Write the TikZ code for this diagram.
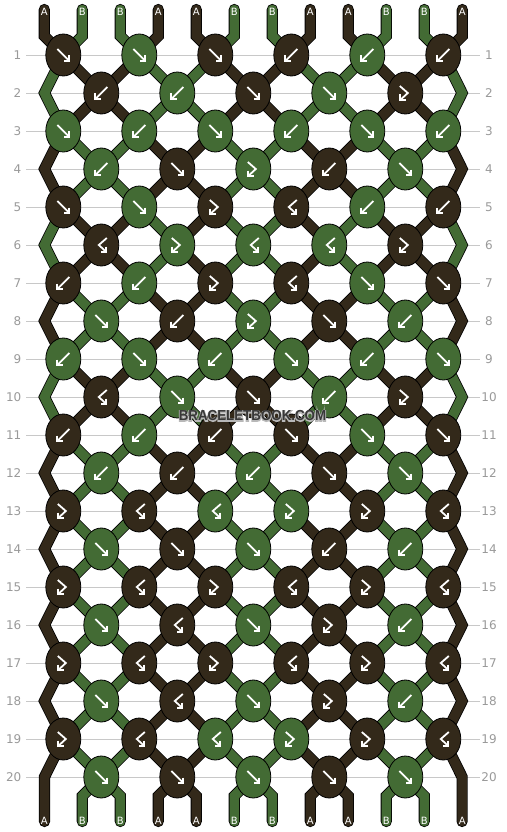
\documentclass[tikz,border=0pt]{standalone}
\usepackage{fontspec}
\setmainfont{DejaVu Sans}
\newfontfamily\markfont{Liberation Sans}
\usetikzlibrary{shapes.geometric,backgrounds}

\definecolor{dk}{HTML}{33291A}
\definecolor{gk}{HTML}{436B34}
\definecolor{rulegray}{HTML}{C8C8C8}
\definecolor{numgray}{HTML}{9A9A9A}
\definecolor{markgray}{HTML}{383838}

\tikzset{
  knot/.style={ellipse, draw=black, line width=0.8pt, minimum width=35pt, minimum height=42pt, inner sep=0pt},
  strand/.style={draw=black, line width=0.8pt, double=#1, double distance=9.6pt, line cap=round},
  arw/.style={draw=white, line width=1.8pt},
  gridline/.style={draw=rulegray, line width=0.9pt},
  rownum/.style={text=numgray, font=\fontsize{12}{12}\selectfont, inner sep=0pt},
  strlbl/.style={text=white, font=\fontsize{10}{10}\selectfont, inner sep=0pt},
  wmark/.style={text=markgray, font=\markfont\bfseries\fontsize{14.5}{14.5}\selectfont, inner sep=0pt},
}

% outlined text for the watermark: stroked copy under a plain copy
\newcommand\outlined[1]{\rlap{\special{pdf:code q 2 Tr 1.8 w 0.72 G}#1\special{pdf:code Q}}#1}

% knot symbols: forward, backward, forward-backward, backward-forward
\newcommand\knotfwd[1]{\begin{scope}[shift={(#1.center)}]
  \draw[arw] (-6,-6) -- (5,5);
  \draw[arw] (6,0.5) -- (6,6) -- (0.5,6);
\end{scope}}
\newcommand\knotbwd[1]{\begin{scope}[shift={(#1.center)}]
  \draw[arw] (6,-6) -- (-5,5);
  \draw[arw] (-6,0.5) -- (-6,6) -- (-0.5,6);
\end{scope}}
\newcommand\knotfb[1]{\begin{scope}[shift={(#1.center)}]
  \draw[arw] (-5.5,-7) -- (2.5,0) -- (-4.2,6.2);
  \draw[arw] (-5,1.5) -- (-5,7) -- (0.5,7);
\end{scope}}
\newcommand\knotbf[1]{\begin{scope}[shift={(#1.center)}]
  \draw[arw] (5.5,-7) -- (-2.5,0) -- (4.2,6.2);
  \draw[arw] (5,1.5) -- (5,7) -- (-0.5,7);
\end{scope}}

% string colours after each row
\def\patA{dk/A,gk/B,gk/B,dk/A,dk/A,gk/B,gk/B,dk/A,dk/A,gk/B,gk/B,dk/A}
\def\patB{gk/B,dk/A,dk/A,gk/B,gk/B,dk/A,dk/A,gk/B,gk/B,dk/A,dk/A,gk/B}
\def\patC{gk/B,dk/A,dk/A,gk/B,dk/A,gk/B,gk/B,dk/A,gk/B,dk/A,dk/A,gk/B}

\begin{document}
\begin{tikzpicture}[x=1pt,y=-1pt]
  \useasboundingbox (0,0) rectangle (506,832);

  % knots
  \foreach \r/\row in {
    1/{dk/fwd,gk/fwd,dk/fwd,dk/bwd,gk/bwd,dk/bwd},
    2/{dk/bwd,gk/bwd,dk/fwd,gk/fwd,dk/fb},
    3/{gk/fwd,gk/bwd,gk/fwd,gk/bwd,gk/fwd,gk/bwd},
    4/{gk/bwd,dk/fwd,gk/fb,dk/bwd,gk/fwd},
    5/{dk/fwd,gk/fwd,dk/fb,dk/bf,gk/bwd,dk/bwd},
    6/{dk/bf,gk/fb,gk/bf,gk/bf,dk/fb},
    7/{dk/bwd,gk/bwd,dk/fb,dk/bf,gk/fwd,dk/fwd},
    8/{gk/fwd,dk/bwd,gk/fb,dk/fwd,gk/bwd},
    9/{gk/bwd,gk/fwd,gk/bwd,gk/fwd,gk/bwd,gk/fwd},
    10/{dk/bf,gk/fwd,dk/fwd,gk/bwd,dk/fb},
    11/{dk/bwd,gk/bwd,dk/bwd,dk/fwd,gk/fwd,dk/fwd},
    12/{gk/bwd,dk/bwd,gk/bwd,dk/fwd,gk/fwd},
    13/{dk/fb,dk/bf,gk/bf,gk/fb,dk/fb,dk/bf},
    14/{gk/fwd,dk/fwd,gk/fwd,dk/bwd,gk/bwd},
    15/{dk/fb,dk/bf,dk/fb,dk/bf,dk/fb,dk/bf},
    16/{gk/fwd,dk/bf,gk/fwd,dk/fb,gk/bwd},
    17/{dk/fb,dk/bf,dk/fb,dk/bf,dk/fb,dk/bf},
    18/{gk/fwd,dk/bf,gk/fwd,dk/fb,gk/bwd},
    19/{dk/fb,dk/bf,gk/bf,gk/fb,dk/fb,dk/bf},
    20/{gk/fwd,dk/fwd,gk/fwd,dk/fwd,gk/fwd}} {
    \foreach \col/\typ [count=\kn] in \row {
      \pgfmathsetmacro\x{63.3+38*mod(\r+1,2)+76*(\kn-1)}
      \pgfmathsetmacro\y{55+38*(\r-1)}
      \node[knot, fill=\col] (k-\r-\kn) at (\x,\y) {};
      \csname knot\typ\endcsname{k-\r-\kn}
    }
  }

  % edge turning points and loose ends
  \foreach \r in {2,4,...,20} {
    \pgfmathsetmacro\y{55+38*(\r-1)}
    \coordinate (eL-\r) at (44.5,\y);
    \coordinate (eR-\r) at (462.1,\y);
  }
  \coordinate (k-21-1) at (44.5,821.5);
  \coordinate (k-21-6) at (462.1,821.5);

  % row numbers
  \foreach \r in {1,...,20} {
    \pgfmathsetmacro\y{55+38*(\r-1)}
    \node[rownum, anchor=east] (numl-\r) at (21.5,\y) {\r};
    \node[rownum] (numr-\r) at (489,\y) {\r};
  }

  \begin{pgfonlayer}{background}
    \fill[white] (0,0) rectangle (506,832);
    \foreach \r in {1,...,20} {
      \pgfmathsetmacro\y{55+38*(\r-1)}
      \draw[gridline] (26,\y) -- (480,\y);
    }

    % strings coming in at the top
    \foreach \col/\s [count=\p] in \patA {
      \pgfmathtruncatemacro\ka{(\p+1)/2}
      \pgfmathsetmacro\xs{63.3+76*(\ka-1)+(mod(\p,2)==1 ? -19 : 19)}
      \coordinate (top-\p) at (\xs,9.5);
      \draw[strand=\col] (top-\p) -- ++(0,26.5) -- (k-1-\ka.center);
    }

    % strings between the rows
    \foreach \r/\pat in {1/B,2/B,3/A,4/A,5/C,6/C,7/A,8/A,9/B,10/B,11/A,12/A,13/A,14/A,15/A,16/A,17/A,18/A,19/A} {
      \edef\cur{\csname pat\pat\endcsname}
      \foreach \col/\s [count=\p] in \cur {
        \pgfmathtruncatemacro\rn{\r+1}
        \pgfmathtruncatemacro\rnn{\r+2}
        \ifnum\p=1
          \ifodd\r \draw[strand=\col] (k-\r-1.center) -- (eL-\rn) -- (k-\rnn-1.center); \fi
        \else\ifnum\p=12
          \ifodd\r \draw[strand=\col] (k-\r-6.center) -- (eR-\rn) -- (k-\rnn-6.center); \fi
        \else
          \pgfmathtruncatemacro\ka{mod(\r,2)==1 ? (\p+1)/2 : \p/2}
          \pgfmathtruncatemacro\kb{mod(\r,2)==1 ? \p/2 : (\p+1)/2}
          \draw[strand=\col] (k-\r-\ka.center) -- (k-\rn-\kb.center);
        \fi\fi
      }
    }

    % strings going out at the bottom
    \foreach \col/\s [count=\p] in \patA {
      \ifnum\p>1 \ifnum\p<12
        \pgfmathtruncatemacro\kb{\p/2}
        \pgfmathsetmacro\dx{mod(\p,2)==0 ? -19 : 19}
        \pgfmathsetmacro\xs{101.3+76*(\kb-1)+\dx}
        \coordinate (bot-\p) at (\xs,821.5);
        \draw[strand=\col] (k-20-\kb.center) -- ++(\dx,19) -- (bot-\p);
      \fi\fi
    }
  \end{pgfonlayer}

  % string letters
  \foreach \col/\s [count=\p] in \patA {
    \pgfmathtruncatemacro\ka{(\p+1)/2}
    \pgfmathsetmacro\xs{63.3+76*(\ka-1)+(mod(\p,2)==1 ? -19 : 19)}
    \node[strlbl] (tl-\p) at (\xs,12) {\s};
    \node[strlbl] (bl-\p) at (\xs,820.5) {\s};
  }

  % watermark
  \node[wmark] (wmark) at (252.5,416) {\scalebox{0.92}[1]{\outlined{BRACELETBOOK.COM}}};
\end{tikzpicture}
\end{document}
